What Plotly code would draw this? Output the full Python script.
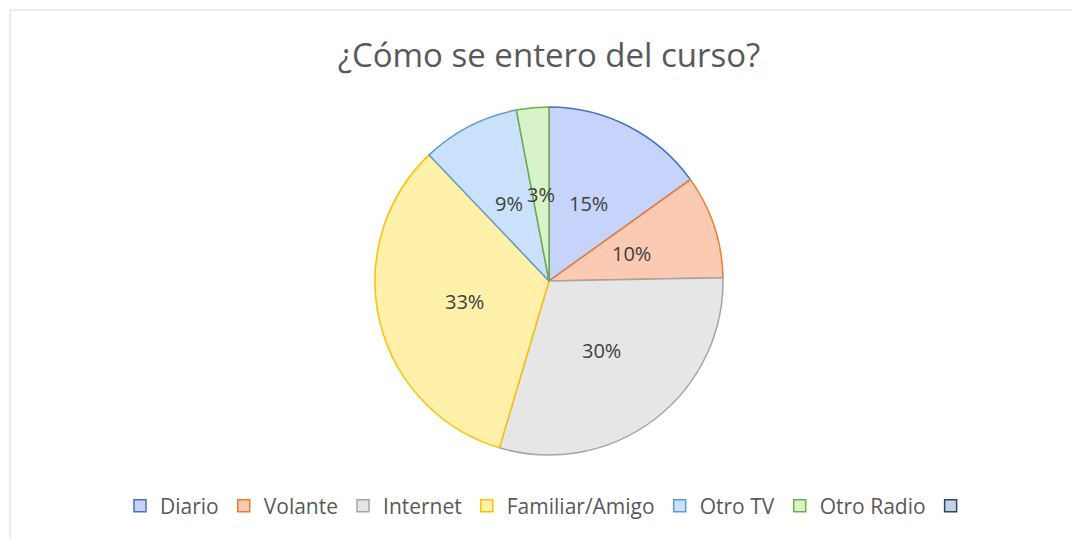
import numpy as np
import plotly.graph_objects as go

# Data
categories = ["Diario", "Volante", "Internet", "Familiar/Amigo", "Otro TV", "Otro Radio"]
values = [15.1, 9.6, 29.9, 33.3, 9.1, 3.0]
fill_colors = ["#c6d3fa", "#fbcab2", "#e6e6e6", "#fff0aa", "#c9e1fa", "#d8f2c9"]
line_colors = ["#4472c4", "#ed7d31", "#a5a5a5", "#ffc000", "#5b9bd5", "#70ad47"]
extra_label = "\u00a0"
extra_fill = "#c9d0e0"
extra_line = "#264478"
title_text = "¿Cómo se entero del curso?"

# page has an 8px body margin, so the figure is drawn 8px smaller and offset
OFF = 8
W, H = 1080 - OFF, 539 - OFF
cx, cy, R = 549 - OFF, 281 - OFF, 174  # pie centre and radius in pixels


def px_x(x):
    return (x - OFF) / W


def px_y(y):
    return 1 - (y - OFF) / H


fig = go.Figure()
fig.add_trace(go.Pie(
    labels=categories,
    values=values,
    sort=False,
    direction="clockwise",
    rotation=0,
    textinfo="none",
    hoverinfo="label+percent",
    marker=dict(colors=fill_colors, line=dict(color=line_colors, width=1.5)),
    domain=dict(x=[(cx - R) / W, (cx + R) / W], y=[1 - (cy + R) / H, 1 - (cy - R) / H]),
))
# empty seventh legend entry
fig.add_trace(go.Scatter(
    x=[None], y=[None], mode="markers", name=extra_label, showlegend=True,
    marker=dict(symbol="square", size=12, color=extra_fill, line=dict(color=extra_line, width=1.5)),
    hoverinfo="skip",
))

# Percent labels at half radius, in the middle angle of each slice
vals = np.array(values)
total = vals.sum()
cum = np.cumsum(vals) - vals / 2
annotations = []
for v, c in zip(vals, cum):
    ang = 2 * np.pi * c / total
    px = cx + 0.5 * R * np.sin(ang)
    py = cy - 0.5 * R * np.cos(ang)
    annotations.append(dict(
        x=px / W, y=1 - py / H, xref="paper", yref="paper",
        text=f"{round(100 * v / total):.0f}%", showarrow=False,
        font=dict(family="Open Sans", size=20, color="#404040"),
        xanchor="center", yanchor="middle",
    ))

fig.update_layout(
    width=W, height=H,
    margin=dict(l=0, r=0, t=0, b=0),
    paper_bgcolor="white",
    plot_bgcolor="white",
    xaxis=dict(visible=False),
    yaxis=dict(visible=False),
    title=dict(text=title_text, x=px_x(549), xanchor="center", y=px_y(55), yanchor="middle",
               font=dict(family="Open Sans", size=33, color="#595959")),
    legend=dict(orientation="h", x=px_x(551), xanchor="center", y=px_y(506), yanchor="middle",
                font=dict(family="Open Sans", size=21, color="#595959"),
                itemclick=False, itemdoubleclick=False),
    annotations=annotations,
    shapes=[dict(type="rect", xref="paper", yref="paper",
                 x0=px_x(10), x1=1.02, y0=-0.02, y1=px_y(10),
                 line=dict(color="#d9d9d9", width=1), fillcolor="rgba(0,0,0,0)", layer="below")],
)

fig.write_html("out.html")
